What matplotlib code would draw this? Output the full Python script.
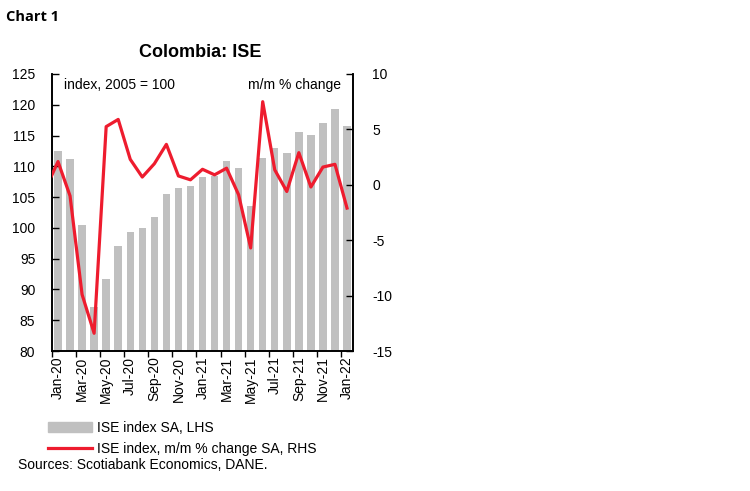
import numpy as np
import matplotlib.pyplot as plt
from matplotlib.patches import Patch
from matplotlib.lines import Line2D

plt.rcParams['font.family'] = ['Liberation Sans', 'DejaVu Sans']
plt.rcParams['axes.unicode_minus'] = False

# monthly data, Jan-20 .. Jan-22
months = ['Jan-20', 'Feb-20', 'Mar-20', 'Apr-20', 'May-20', 'Jun-20', 'Jul-20', 'Aug-20',
          'Sep-20', 'Oct-20', 'Nov-20', 'Dec-20', 'Jan-21', 'Feb-21', 'Mar-21', 'Apr-21',
          'May-21', 'Jun-21', 'Jul-21', 'Aug-21', 'Sep-21', 'Oct-21', 'Nov-21', 'Dec-21', 'Jan-22']
ise_index = [112.5, 111.2, 100.4, 87.1, 91.7, 97.1, 99.4, 100.0, 101.8, 105.5, 106.4, 106.8,
             108.3, 108.5, 110.8, 109.7, 103.6, 111.4, 112.9, 112.2, 115.5, 115.1, 117.1, 119.3, 116.6]
# m/m % change; first value is Dec-19 (clipped at the left edge)
mm_change = [-0.3, 2.1, -1.0, -9.9, -13.4, 5.25, 5.9, 2.3, 0.7, 1.9, 3.65, 0.8, 0.45,
             1.4, 0.9, 1.5, -0.9, -5.7, 7.5, 1.35, -0.6, 2.9, -0.2, 1.6, 1.85, -2.1]

red = '#EE1C2E'
grey = '#C0C0C0'

fig = plt.figure(figsize=(7.5, 4.91), dpi=100)
ax = fig.add_axes([0.0693, 0.2851, 0.4014, 0.5642])
x = np.arange(len(months))
ax.bar(x, ise_index, width=0.62, color=grey, zorder=1)
ax.set_ylim(80, 125)
ax.set_yticks(range(80, 126, 5))
ax.set_xlim(-0.5, len(months) - 0.5)

ax2 = ax.twinx()
ax2.plot(np.arange(-1, len(months)), mm_change, color=red, lw=2.3, zorder=3)
ax2.set_ylim(-15, 10)
ax2.set_yticks(range(-15, 11, 5))
ax2.set_xlim(-0.5, len(months) - 0.5)

for a in (ax, ax2):
    a.spines['top'].set_visible(False)
    a.tick_params(axis='y', direction='in', length=5, labelsize=10, width=1)
    for s in a.spines.values():
        s.set_linewidth(1.2)
ax.tick_params(axis='y', pad=12)
ax2.tick_params(axis='y', pad=14)

# ticks between month pairs, labels on every other month
ax.set_xticks(np.arange(-0.5, len(months), 2))
ax.set_xticklabels([])
ax.tick_params(axis='x', which='major', direction='out', length=4, width=1)
ax.set_xticks(x[::2], minor=True)
ax.set_xticklabels(months[::2], minor=True, rotation=90, fontsize=10)
ax.tick_params(axis='x', which='minor', length=0, pad=4)

ax.text(0.04, 0.985, 'index, 2005 = 100', transform=ax.transAxes, fontsize=10,
        ha='left', va='top')
ax.text(0.96, 0.985, 'm/m % change', transform=ax.transAxes, fontsize=10,
        ha='right', va='top')

fig.text(0.008, 0.965, 'Chart 1', fontsize=10.5, fontweight='bold', ha='left', va='center',
         family=['Open Sans', 'DejaVu Sans'])
fig.text(0.267, 0.893, 'Colombia: ISE', fontsize=13, fontweight='bold', ha='center', va='center')

handles = [Patch(color=grey), Line2D([], [], color=red, lw=2.3)]
fig.legend(handles, ['ISE index SA, LHS', 'ISE index, m/m % change SA, RHS'],
           loc='lower left', bbox_to_anchor=(0.064, 0.071), bbox_transform=fig.transFigure,
           frameon=False, fontsize=10, handlelength=3.2, handletextpad=0.35, labelspacing=0.55,
           borderaxespad=0, borderpad=0)
fig.text(0.024, 0.053, 'Sources: Scotiabank Economics, DANE.', fontsize=10, ha='left', va='center')

fig.savefig('out.png', dpi=100)
